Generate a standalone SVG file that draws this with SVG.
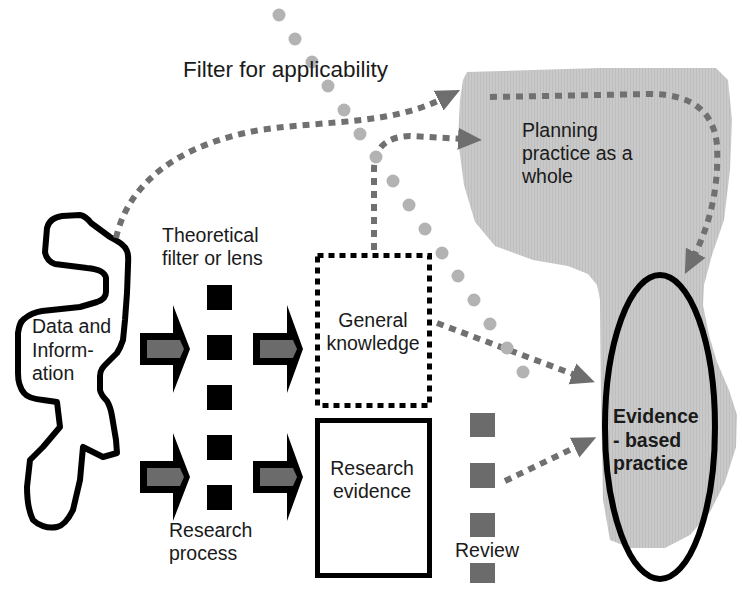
<svg xmlns="http://www.w3.org/2000/svg" width="742" height="591" viewBox="0 0 742 591">
<style>
.t{font-family:"Liberation Sans",Arial,sans-serif;font-size:19.5px;fill:#1a1a1a}
.b{font-weight:bold}
.dot{fill:none;stroke:#707070;stroke-width:6;stroke-dasharray:7 6}
.circ{fill:#b3b3b3}
.sq{fill:#000}
.rv{fill:#6b6b6b}
.ba{fill:#000}
.bi{fill:#6b6b6b}
</style>
<defs>
<pattern id="hatch" width="3" height="10" patternUnits="userSpaceOnUse">
<rect width="3" height="10" fill="#c9c9c9"/>
<rect width="1" height="10" fill="#bebebe"/>
</pattern>
<marker id="ah" markerUnits="userSpaceOnUse" markerWidth="24" markerHeight="24" viewBox="0 0 24 24" refX="6" refY="12" orient="auto">
<path d="M0,1 L24,12 L0,23 z" fill="#6e6e6e"/>
</marker>
</defs>
<rect width="742" height="591" fill="#fff"/>

<g id="planning">
<path d="M467,72 L600,68 L716,68 L728,80 L732,120 L730,170 L724,220 L712,255 L704,285 L703,305 L709,335 L717,362 L729,390 L737,415 L736,447 L725,482 L710,512 L690,535 L665,548 L630,548 L610,540 L603,500 L601,400 L600,300 L597,285 L588,274 L568,266 L533,260 L495,246 L475,222 L464,185 L458,140 L460,100 L463,80 z" fill="url(#hatch)"/>
<text class="t" x="522" y="137">Planning</text>
<text class="t" x="522" y="160">practice as a</text>
<text class="t" x="522" y="183">whole</text>
</g>

<g id="data">
<path d="M47,228 C49,220 55,217 62,216 L80,215 C85,216 88,219 91,223 L110,237 C119,242 125,245 127,251 C129,256 128,261 128,266 L127,293 L125,320 L123,340 C121,346 119,350 117,353 L107,363 C103,367 100,370 100,376 L100,390 C101,395 104,398 107,401 C110,406 111,410 112,416 L116,440 L117,453 L103,457 L83,447 L80,480 L73,510 C68,520 62,526 57,527 C47,529 38,525 33,520 C28,510 27,500 27,487 L30,460 L43,447 L60,427 L57,402 L43,400 C33,399 27,397 24,393 C19,387 18,381 18,373 L18,333 C19,326 20,322 24,319 C30,314 35,312 42,311 L80,307 L97,302 C103,300 106,297 106,292 L106,278 C105,272 98,269 87,268 L55,264 C49,262 46,258 45,252 z" fill="none" stroke="#000" stroke-width="6" stroke-linejoin="round"/>
<text class="t" x="32" y="333">Data and</text>
<text class="t" x="32" y="357">Inform-</text>
<text class="t" x="32" y="380">ation</text>
</g>

<g id="arrows-left">
<path class="ba" d="M140,333 L173,333 L173,305 L190,349 L173,393 L173,365 L140,365 z"/>
<path class="bi" d="M147,340 L180,340 L184,349 L180,358 L147,358 z"/>
<path class="ba" d="M140,461 L173,461 L173,433 L190,477 L173,521 L173,493 L140,493 z"/>
<path class="bi" d="M147,468 L180,468 L184,477 L180,486 L147,486 z"/>
</g>

<g id="filter">
<rect class="sq" x="207" y="285" width="25" height="25"/>
<rect class="sq" x="207" y="335" width="25" height="25"/>
<rect class="sq" x="207" y="385" width="25" height="25"/>
<rect class="sq" x="207" y="435" width="25" height="25"/>
<rect class="sq" x="207" y="485" width="25" height="25"/>
<text class="t" x="162" y="242">Theoretical</text>
<text class="t" x="162" y="265">filter or lens</text>
<text class="t" x="169" y="537">Research</text>
<text class="t" x="169" y="560">process</text>
</g>

<g id="arrows-right">
<path class="ba" d="M253,333 L287,333 L287,305 L303,349 L287,393 L287,365 L253,365 z"/>
<path class="bi" d="M260,340 L293,340 L297,349 L293,358 L260,358 z"/>
<path class="ba" d="M253,461 L287,461 L287,433 L303,477 L287,521 L287,493 L253,493 z"/>
<path class="bi" d="M260,468 L293,468 L297,477 L293,486 L260,486 z"/>
</g>

<g id="general">
<rect x="317.5" y="255.5" width="112" height="150" fill="none" stroke="#000" stroke-width="5" stroke-dasharray="6 5"/>
<text class="t" x="373" y="327" text-anchor="middle">General</text>
<text class="t" x="373" y="350" text-anchor="middle">knowledge</text>
</g>

<g id="research">
<rect x="317.5" y="420.5" width="112" height="155" fill="none" stroke="#000" stroke-width="5"/>
<text class="t" x="372" y="475" text-anchor="middle">Research</text>
<text class="t" x="372" y="498" text-anchor="middle">evidence</text>
</g>

<g id="review">
<rect class="rv" x="470" y="413" width="25" height="24"/>
<rect class="rv" x="470" y="463" width="25" height="25"/>
<rect class="rv" x="470" y="513" width="25" height="24"/>
<rect class="rv" x="470" y="563" width="25" height="20"/>
<text class="t" x="487" y="557" text-anchor="middle">Review</text>
</g>

<g id="connectors">
<path class="dot" d="M116,238 C128,185 175,145 260,130 C330,120 390,125 444,98" marker-end="url(#ah)"/>
<path class="dot" d="M374,250 L374,170 Q374,137 410,136 L464,139" marker-end="url(#ah)"/>
<path class="dot" d="M490,97 L650,94 Q712,94 717,145 Q720,205 693,258" marker-end="url(#ah)"/>
<path class="dot" d="M437,323 L578,376" marker-end="url(#ah)"/>
<path class="dot" d="M505,481 L580,445" marker-end="url(#ah)"/>
</g>

<g id="filter-applicability">
<circle class="circ" cx="279" cy="15" r="6.5"/>
<circle class="circ" cx="295" cy="39" r="6.5"/>
<circle class="circ" cx="312" cy="62" r="6.5"/>
<circle class="circ" cx="328" cy="86" r="6.5"/>
<circle class="circ" cx="344" cy="110" r="6.5"/>
<circle class="circ" cx="360" cy="134" r="6.5"/>
<circle class="circ" cx="376" cy="157" r="6.5"/>
<circle class="circ" cx="393" cy="181" r="6.5"/>
<circle class="circ" cx="409" cy="205" r="6.5"/>
<circle class="circ" cx="425" cy="229" r="6.5"/>
<circle class="circ" cx="442" cy="253" r="6.5"/>
<circle class="circ" cx="458" cy="276" r="6.5"/>
<circle class="circ" cx="474" cy="300" r="6.5"/>
<circle class="circ" cx="490" cy="324" r="6.5"/>
<circle class="circ" cx="507" cy="348" r="6.5"/>
<circle class="circ" cx="523" cy="372" r="6.5"/>
<text class="t" x="183" y="77" style="font-size:22.5px">Filter for applicability</text>
</g>

<g id="ebp">
<ellipse cx="660" cy="427" rx="55" ry="152" fill="none" stroke="#000" stroke-width="6"/>
<text class="t b" x="613" y="423">Evidence</text>
<text class="t b" x="613" y="447">- based</text>
<text class="t b" x="613" y="470">practice</text>
</g>
</svg>
